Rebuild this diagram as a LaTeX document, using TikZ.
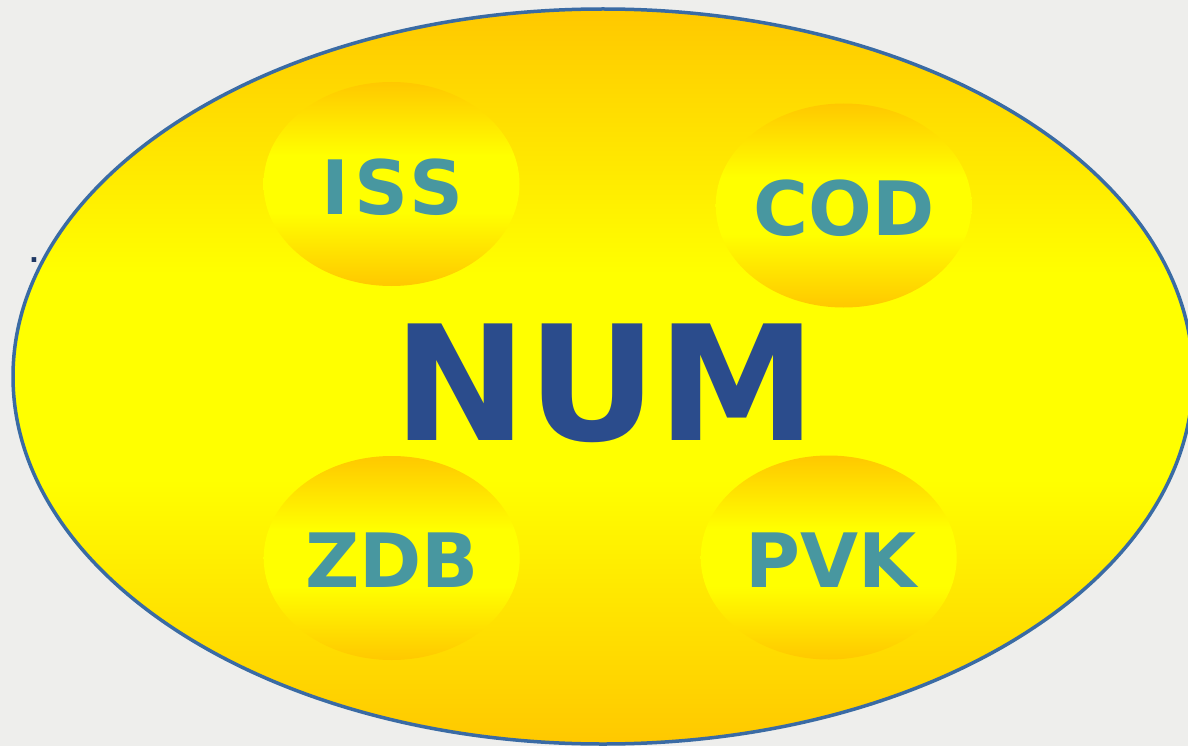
\documentclass[tikz,border=0pt]{standalone}
\usepackage{fontspec}
\setmainfont{DejaVu Sans}
\usetikzlibrary{shapes.geometric}
\definecolor{bgc}{HTML}{EEEEEC}
\definecolor{oc}{HTML}{FFC800}
\definecolor{yy}{HTML}{FFFF00}
\definecolor{outc}{HTML}{3A6BA4}
\definecolor{numc}{HTML}{2B4C8C}
\definecolor{labc}{HTML}{4897A0}
\definecolor{dotc}{HTML}{1F3864}
\pgfdeclareverticalshading{yelsh}{100bp}{color(0bp)=(oc); color(25bp)=(oc); color(43bp)=(yy); color(57bp)=(yy); color(75bp)=(oc); color(100bp)=(oc)}
\begin{document}
\begin{tikzpicture}[x=1pt,y=-1pt,
  bigshape/.style={ellipse, minimum width=1180pt, minimum height=735pt, inner sep=0pt},
  blob/.style={ellipse, shading=yelsh, minimum width=256pt, minimum height=204pt, inner sep=0pt},
  lab/.style={anchor=base, inner sep=0pt, text=labc, font=\fontsize{75}{75}\selectfont\bfseries}]
\fill[bgc] (0,0) rectangle (1188,746);
\useasboundingbox (0,0) rectangle (1188,746);
\clip (0,0) rectangle (1188,746);
\node[bigshape, shading=yelsh] (big) at (603,376.5) {};
\node[bigshape, draw=outc, line width=3.5pt] (bigline) at (big.center) {};
\node[blob] (bISS) at (391.5,184) {};
\node[blob] (bCOD) at (843.7,205.5) {};
\node[blob] (bZDB) at (391.7,558) {};
\node[blob] (bPVK) at (828.7,557.5) {};
\node[lab] (tISS) at (392.7,214.3) {\addfontfeature{LetterSpace=6}ISS};
\node[lab] (tCOD) at (844,235) {COD};
\node[lab] (tZDB) at (392,587.7) {ZDB};
\node[lab] (tPVK) at (831,587.7) {PVK};
\node[anchor=base, inner sep=0pt, text=numc, font=\fontsize{160}{160}\selectfont\bfseries] (tNUM) at (605.5,440) {NUM};
\node[anchor=base, inner sep=0pt, text=dotc, font=\fontsize{26}{26}\selectfont\bfseries] (dot) at (34,262.7) {.};
\end{tikzpicture}
\end{document}
